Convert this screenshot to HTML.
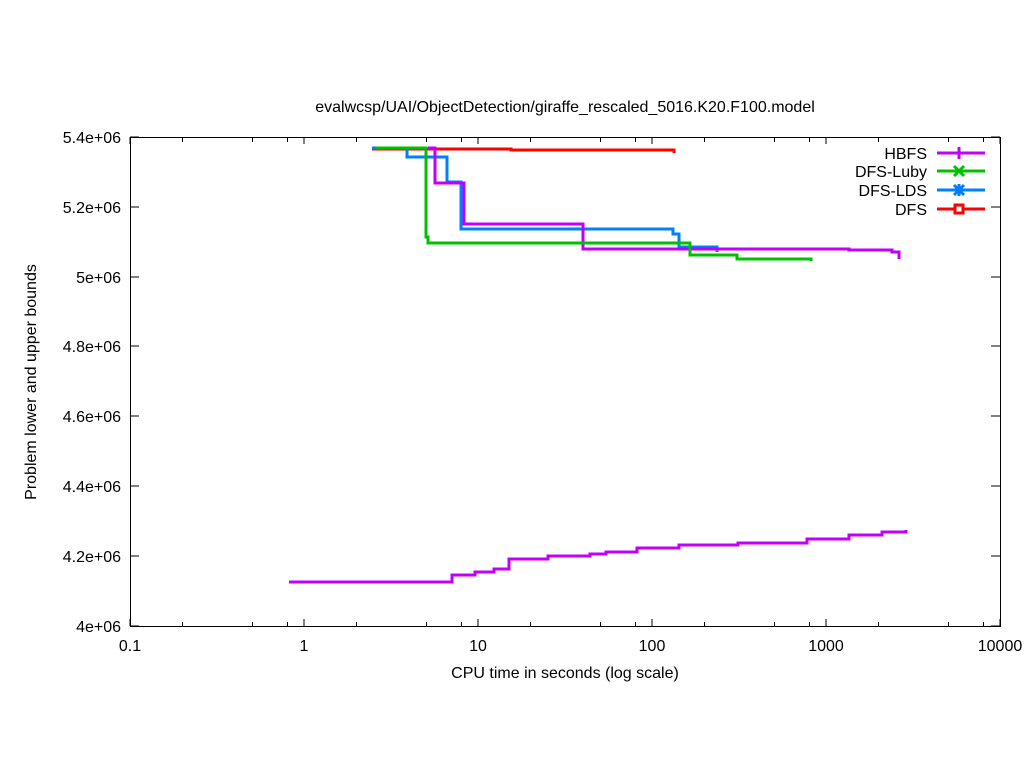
<!DOCTYPE html>
<html><head><style>body{margin:0;background:#fff}</style></head><body>
<svg width="1024" height="768" xmlns="http://www.w3.org/2000/svg" font-family="Liberation Sans, sans-serif" font-size="16">
<rect width="1024" height="768" fill="#fff"/>
<text x="565" y="112" text-anchor="middle">evalwcsp/UAI/ObjectDetection/giraffe_rescaled_5016.K20.F100.model</text>
<g stroke="#000" stroke-width="1">
<rect x="130.5" y="137.5" width="870" height="489" fill="none"/>
<path d="M130,626h9M1000,626h-9M130,556h9M1000,556h-9M130,486h9M1000,486h-9M130,416h9M1000,416h-9M130,346h9M1000,346h-9M130,277h9M1000,277h-9M130,207h9M1000,207h-9M130,137h9M1000,137h-9"/>
<path d="M130,626v-7M130,137v7M304,626v-7M304,137v7M478,626v-7M478,137v7M652,626v-7M652,137v7M826,626v-7M826,137v7M1000,626v-7M1000,137v7"/>
<path d="M182.5,626v-4M252.5,626v-4M287.5,626v-4M356.5,626v-4M426.5,626v-4M461.5,626v-4M530.5,626v-4M600.5,626v-4M635.5,626v-4M704.5,626v-4M774.5,626v-4M809.5,626v-4M878.5,626v-4M948.5,626v-4M983.5,626v-4"/>
<path d="M182.5,137v5M252.5,137v5M287.5,137v5M356.5,137v5M426.5,137v5M461.5,137v5M530.5,137v5M600.5,137v5M635.5,137v5M704.5,137v5M774.5,137v5M809.5,137v5M878.5,137v5M948.5,137v5M983.5,137v5"/>
</g>
<g text-anchor="end">
<text x="121" y="632">4e+06</text><text x="121" y="562">4.2e+06</text><text x="121" y="492">4.4e+06</text><text x="121" y="422">4.6e+06</text><text x="121" y="352">4.8e+06</text><text x="121" y="283">5e+06</text><text x="121" y="213">5.2e+06</text><text x="121" y="143">5.4e+06</text>
</g>
<g text-anchor="middle">
<text x="130" y="651">0.1</text><text x="304" y="651">1</text><text x="478" y="651">10</text><text x="652" y="651">100</text><text x="826" y="651">1000</text><text x="1000" y="651">10000</text>
<text x="565" y="678">CPU time in seconds (log scale)</text>
<text transform="translate(36,382) rotate(-90)">Problem lower and upper bounds</text>
</g>
<g fill="none" stroke-width="3">
<path stroke="#ff0000" d="M372,149H511V150H674V153"/>
<path stroke="#0080ff" d="M372,148H407V157H447V182H461V229H673V234H679V247H717V252"/>
<path stroke="#c000ff" d="M428,148H435V183H464V224H583V249H849V250H892V252H899V259"/>
<path stroke="#00c000" d="M376,148H426V237H428V243H690V255H737V259H811V261"/>
<path stroke="#c000ff" d="M289,582H452V575H475V572H494V569H509V559H548V556H590V554H606V552H637V548H679V545H738V543H807V539H849V535H882V532H906V530"/>
</g>
<g text-anchor="end">
<text x="927" y="159">HBFS</text><text x="927" y="177">DFS-Luby</text><text x="927" y="196">DFS-LDS</text><text x="927" y="215">DFS</text>
</g>
<g fill="none" stroke-width="3">
<path stroke="#c000ff" d="M937,153H985M959,147v12"/>
<path stroke="#00c000" d="M937,171H985M954,166l10,10M964,166l-10,10"/>
<path stroke="#0080ff" d="M937,190H985M954,185l10,10M964,185l-10,10M959,184v12"/>
<path stroke="#ff0000" d="M937,209H985"/>
<rect x="955" y="205" width="8" height="8" stroke="#ff0000" fill="#fff"/>
</g>
</svg>
</body></html>
